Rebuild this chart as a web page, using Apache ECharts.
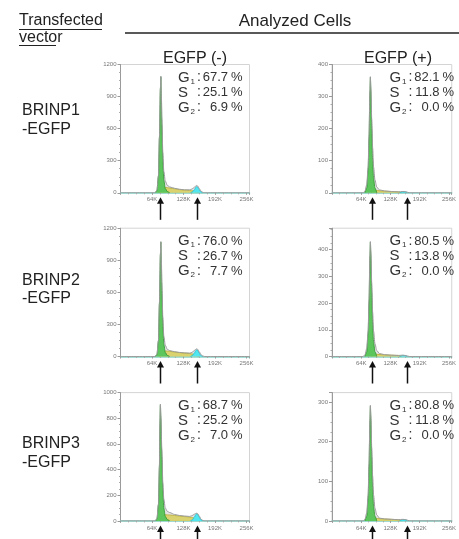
<!DOCTYPE html>
<html>
<head>
<meta charset="utf-8">
<script src="https://cdn.jsdelivr.net/npm/echarts@6.0.0/dist/echarts.min.js"></script>
<style>
html, body { margin: 0; padding: 0; background: #fff; }
#chart { width: 459px; height: 539px; }
</style>
</head>
<body>
<div id="chart"></div>
<script>
// labels
const rowLabels = ['BRINP1', 'BRINP2', 'BRINP3']
const colLabels = ['EGFP (-)', 'EGFP (+)']
const xTicks = [64, 128, 192, 256] // K

// phase percentages, one value per row
const negG1 = [67.7, 76.0, 68.7]
const negS = [25.1, 26.7, 25.2]
const negG2 = [6.9, 7.7, 7.0]
const posG1 = [82.1, 80.5, 80.8]
const posS = [11.8, 13.8, 11.8]
const posG2 = [0.0, 0.0, 0.0]

// y axis range per panel (row-major: neg, pos)
const yMax = [1200, 400, 1200, 480, 1000, 324]
const yStep = [300, 100, 300, 100, 200, 100]

// arrow positions (K) for G1 / G2 per column
const negArrows = [80, 156]
const posArrows = [88, 164]

// histograms: [DNA content (K), count]
// BRINP1 EGFP(-)
const p1Total = [[0,0],[70,0],[74,25],[77,160],[79,520],[81,980],[82,1090],[83,930],[84,700],[86,380],[88,200],[91,110],[95,70],[100,55],[110,42],[120,33],[130,28],[140,28],[145,35],[149,48],[152,60],[155,68],[157,62],[160,40],[163,18],[167,5],[171,0],[262,0]]
const p1G1 = [[71,0],[74,22],[77,155],[79,510],[81,970],[82,1085],[83,900],[84,640],[86,300],[88,120],[91,40],[95,12],[100,0]]
const p1S = [[78,0],[82,20],[86,45],[92,50],[100,45],[110,38],[120,30],[130,25],[140,22],[148,18],[154,8],[160,0]]
const p1G2 = [[142,0],[146,8],[150,28],[153,52],[155,60],[157,52],[160,30],[163,10],[167,0]]
// BRINP1 EGFP(+)
const p2Total = [[0,0],[68,0],[72,5],[76,25],[79,80],[81,180],[83,320],[84,362],[85,330],[87,230],[89,140],[91,80],[94,40],[98,18],[104,9],[115,6],[130,4],[145,3],[155,4],[162,3],[170,0],[262,0]]
const p2G1 = [[72,0],[76,15],[79,70],[81,170],[83,315],[84,360],[85,320],[87,200],[89,100],[91,45],[94,15],[98,0]]
const p2S = [[86,0],[92,8],[100,7],[115,5],[130,4],[145,3],[152,0]]
const p2G2 = [[148,0],[154,3],[160,3],[165,0]]
// BRINP2 EGFP(-)
const p3Total = [[0,0],[70,0],[74,20],[77,150],[79,500],[81,960],[82,1075],[83,910],[84,690],[86,370],[88,190],[91,105],[95,68],[100,55],[110,45],[120,38],[130,34],[140,32],[145,38],[149,52],[152,64],[155,72],[157,66],[160,44],[163,20],[167,5],[171,0],[262,0]]
const p3G1 = [[71,0],[74,18],[77,145],[79,490],[81,950],[82,1070],[83,880],[84,620],[86,290],[88,115],[91,38],[95,10],[100,0]]
const p3S = [[78,0],[82,22],[86,48],[92,52],[100,48],[110,42],[120,36],[130,32],[140,28],[148,22],[154,10],[160,0]]
const p3G2 = [[142,0],[146,9],[150,32],[153,56],[155,62],[157,55],[160,32],[163,10],[167,0]]
// BRINP2 EGFP(+)
const p4Total = [[0,0],[68,0],[72,6],[76,30],[79,95],[81,215],[83,380],[84,430],[85,395],[87,275],[89,165],[91,95],[94,48],[98,22],[104,11],[115,7],[130,5],[145,4],[155,5],[162,3],[170,0],[262,0]]
const p4G1 = [[72,0],[76,18],[79,85],[81,200],[83,375],[84,428],[85,380],[87,240],[89,120],[91,54],[94,18],[98,0]]
const p4S = [[86,0],[92,9],[100,8],[115,6],[130,5],[145,4],[152,0]]
const p4G2 = [[148,0],[154,4],[160,4],[165,0]]
// BRINP3 EGFP(-)
const p5Total = [[0,0],[70,0],[74,18],[77,130],[79,430],[80,760],[81,909],[82,820],[84,560],[86,300],[88,170],[91,100],[95,75],[100,65],[110,50],[120,42],[130,38],[140,35],[145,40],[149,50],[152,56],[155,60],[157,55],[160,38],[163,16],[167,4],[171,0],[262,0]]
const p5G1 = [[71,0],[74,15],[77,125],[79,420],[80,750],[81,905],[82,800],[84,500],[86,240],[88,100],[91,35],[95,10],[100,0]]
const p5S = [[78,0],[82,24],[86,45],[92,48],[100,46],[110,42],[120,38],[130,34],[140,30],[148,24],[154,10],[160,0]]
const p5G2 = [[142,0],[146,8],[150,30],[153,50],[155,57],[157,50],[160,30],[163,10],[167,0]]
// BRINP3 EGFP(+)
const p6Total = [[0,0],[68,0],[72,4],[76,20],[79,65],[81,145],[83,258],[84,292],[85,266],[87,185],[89,113],[91,65],[94,32],[98,15],[104,7],[115,5],[130,4],[145,3],[155,4],[162,3],[170,0],[262,0]]
const p6G1 = [[72,0],[76,12],[79,56],[81,137],[83,254],[84,290],[85,258],[87,161],[89,81],[91,36],[94,12],[98,0]]
const p6S = [[86,0],[92,7],[100,6],[115,5],[130,4],[145,3],[152,0]]
const p6G2 = [[148,0],[154,3],[160,3],[165,0]]

const panels = [
  { total: p1Total, g1: p1G1, s: p1S, g2: p1G2 },
  { total: p2Total, g1: p2G1, s: p2S, g2: p2G2 },
  { total: p3Total, g1: p3G1, s: p3S, g2: p3G2 },
  { total: p4Total, g1: p4G1, s: p4S, g2: p4G2 },
  { total: p5Total, g1: p5G1, s: p5S, g2: p5G2 },
  { total: p6Total, g1: p6G1, s: p6S, g2: p6G2 }
]

// layout
const FONT = '"Liberation Sans", Arial, sans-serif'
const colLeft = [120.5, 332]
const rowTop = [64.5, 228.2, 392.6]
const plotW = 129
const plotH = 128.3
const rowLabelY = [[111, 130], [281, 299], [444, 462.5]]

const chart = echarts.init(document.getElementById('chart'))

const grids = []
const xAxes = []
const yAxes = []
const series = []

panels.forEach((p, i) => {
  const row = Math.floor(i / 2)
  const col = i % 2
  grids.push({
    left: colLeft[col], top: rowTop[row], width: plotW, height: plotH,
    show: true, borderColor: '#d4d4d4', borderWidth: 1
  })
  xAxes.push({
    gridIndex: i, type: 'value', min: 0, max: 262, interval: 64,
    axisLine: { show: true, onZero: false, lineStyle: { color: '#86d4c8', width: 1.5 } },
    axisTick: { show: true, length: 2, lineStyle: { color: '#999' } },
    minorTick: { show: true, splitNumber: 4, length: 1.5, lineStyle: { color: '#aaa' } },
    splitLine: { show: false },
    axisLabel: {
      fontSize: 6, color: '#777', fontFamily: FONT, margin: 4,
      formatter: v => (xTicks.includes(v) ? v + 'K' : '')
    }
  })
  yAxes.push({
    gridIndex: i, type: 'value', min: 0, max: yMax[i], interval: yStep[i],
    axisLine: { show: true, lineStyle: { color: '#9a9a9a', width: 1 } },
    axisTick: { show: true, length: 3, lineStyle: { color: '#999' } },
    minorTick: { show: true, splitNumber: 4, length: 1.5, lineStyle: { color: '#aaa' } },
    splitLine: { show: false },
    axisLabel: {
      fontSize: 6, color: '#777', fontFamily: FONT, margin: 4,
      formatter: v => (v % yStep[i] === 0 ? String(v) : '')
    }
  })

  const base = { type: 'line', xAxisIndex: i, yAxisIndex: i, showSymbol: false, symbol: 'none',
    smooth: 0.3, smoothMonotone: 'x', silent: true, animation: false }

  // total histogram as light gray fill
  series.push(Object.assign({}, base, {
    data: p.total, z: 1,
    lineStyle: { width: 0 }, areaStyle: { color: 'rgba(185,185,185,0.55)' }
  }))
  // S phase
  series.push(Object.assign({}, base, {
    data: p.s, z: 2,
    lineStyle: { color: '#b8ad34', width: 0.8 }, areaStyle: { color: '#d8cf62', opacity: 0.9 }
  }))
  // G2 phase
  series.push(Object.assign({}, base, {
    data: p.g2, z: 3,
    lineStyle: { color: '#1fbfd0', width: 0.8 }, areaStyle: { color: '#52e6f0', opacity: 1 }
  }))
  // G1 phase
  series.push(Object.assign({}, base, {
    data: p.g1, z: 4,
    lineStyle: { color: '#2e932e', width: 0.8 }, areaStyle: { color: '#5cc65c', opacity: 1 }
  }))
  // total histogram outline
  series.push(Object.assign({}, base, {
    data: p.total, z: 5,
    lineStyle: { color: '#9c9c9c', width: 1 }
  }))
})

chart.setOption({
  animation: false,
  grid: grids,
  xAxis: xAxes,
  yAxis: yAxes,
  series: series
})

// text and arrows
const txt = (x, y, text, size, extra) => Object.assign({
  type: 'text', x: x, y: y, silent: true,
  style: Object.assign({ text: text, font: size + 'px ' + FONT, fill: '#222',
    textVerticalAlign: 'middle', textAlign: 'left' }, extra || {})
})

const graphic = []
graphic.push(txt(19, 21, 'Transfected', 16))
graphic.push(txt(19, 38, 'vector', 16))
graphic.push({ type: 'line', silent: true, shape: { x1: 19, y1: 29.5, x2: 102, y2: 29.5 }, style: { stroke: '#222', lineWidth: 1 } })
graphic.push({ type: 'line', silent: true, shape: { x1: 19, y1: 45.5, x2: 56, y2: 45.5 }, style: { stroke: '#222', lineWidth: 1 } })
graphic.push(txt(295, 21, 'Analyzed Cells', 17, { textAlign: 'center' }))
graphic.push({ type: 'line', silent: true, shape: { x1: 125, y1: 33, x2: 459, y2: 33 }, style: { stroke: '#222', lineWidth: 1.3 } })
graphic.push(txt(195, 59, colLabels[0], 16, { textAlign: 'center' }))
graphic.push(txt(398, 59, colLabels[1], 16, { textAlign: 'center' }))

rowLabels.forEach((lab, r) => {
  graphic.push(txt(22, rowLabelY[r][0], lab, 16))
  graphic.push(txt(22, rowLabelY[r][1], '-EGFP', 16))
})

for (let i = 0; i < 6; i++) {
  const row = Math.floor(i / 2)
  const col = i % 2
  const L = colLeft[col]
  const T = rowTop[row]
  const vals = col === 0 ? [negG1[row], negS[row], negG2[row]] : [posG1[row], posS[row], posG2[row]]
  const names = ['G', 'S', 'G']
  const subs = ['1', '', '2']
  for (let k = 0; k < 3; k++) {
    const y = T + 13 + k * 15
    graphic.push(txt(L + 57.5, y, names[k], 15, { fill: '#333' }))
    if (subs[k]) graphic.push(txt(L + 70, y + 4, subs[k], 8, { fill: '#333' }))
    graphic.push(txt(L + 76.5, y, ':', 14, { fill: '#333' }))
    graphic.push(txt(L + 107.5, y, vals[k].toFixed(1), 13, { fill: '#333', textAlign: 'right' }))
    graphic.push(txt(L + 122, y, '%', 13, { fill: '#333', textAlign: 'right' }))
  }
  // arrows under G1 and G2 positions
  const arrows = col === 0 ? negArrows : posArrows
  arrows.forEach(ax => {
    const pt = chart.convertToPixel({ gridIndex: i }, [ax, 0])
    const x = Math.round(pt[0]) + 0.5
    const y0 = pt[1]
    graphic.push({ type: 'line', silent: true,
      shape: { x1: x, y1: y0 + 9, x2: x, y2: y0 + 27 },
      style: { stroke: '#111', lineWidth: 1.5 } })
    graphic.push({ type: 'polygon', silent: true,
      shape: { points: [[x - 3.5, y0 + 11], [x, y0 + 4.5], [x + 3.5, y0 + 11]] },
      style: { fill: '#111' } })
  })
}

chart.setOption({ graphic: graphic })
</script>
</body>
</html>
